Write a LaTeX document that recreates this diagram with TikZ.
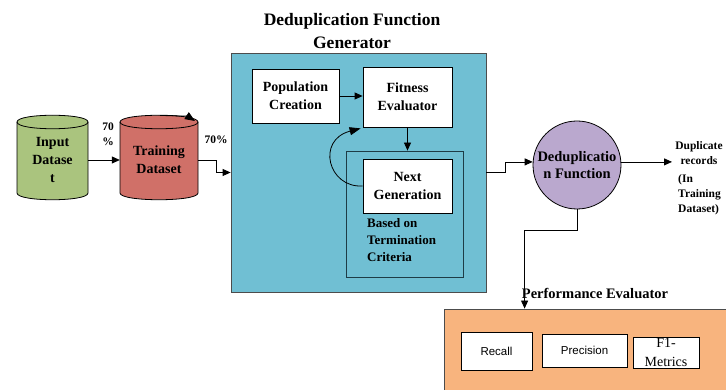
\documentclass[tikz,border=0pt]{standalone}
\usepackage{fontspec}
\setmainfont{Liberation Serif}
\newfontfamily\sansf{Liberation Sans}
\usetikzlibrary{arrows.meta,calc}
\definecolor{cgreen}{RGB}{170,196,126}
\definecolor{cred}{RGB}{208,112,104}
\definecolor{cblue}{RGB}{112,191,211}
\definecolor{clav}{RGB}{186,168,206}
\definecolor{corange}{RGB}{248,180,126}
\definecolor{cdark}{RGB}{30,60,70}
\begin{document}
\begin{tikzpicture}[x=1pt,y=-1pt,
  arr/.style={-{Triangle[length=8pt,width=7pt]}, line width=0.8pt},
  ln/.style={line width=0.8pt},
  wbox/.style={draw, fill=white, line width=0.8pt, align=center, inner sep=0pt,
    font=\bfseries\fontsize{14}{18}\selectfont},
  lbl/.style={align=center, inner sep=0pt, font=\bfseries\fontsize{14}{18}\selectfont},
  sm/.style={align=center, inner sep=0pt, font=\bfseries\fontsize{11.5}{15}\selectfont},
  sbox/.style={draw, fill=white, line width=0.8pt, inner sep=0pt, font=\sansf\fontsize{11.5}{14}\selectfont}
]
\useasboundingbox (0,0) rectangle (726,390);

% cylinders
\filldraw[fill=cgreen, ln] (17,122) -- (17,193) .. controls (17,202) and (88,202) .. (88,193)
  -- (88,122) .. controls (88,113) and (17,113) .. (17,122) -- cycle;
\draw[ln] (17,122) .. controls (17,131) and (88,131) .. (88,122);
\node[lbl, minimum width=71pt, minimum height=85pt] (inp) at (52.5,160) {Input\\Datase\\t};

\filldraw[fill=cred, ln] (120,122) -- (120,193) .. controls (120,202) and (198,202) .. (198,193)
  -- (198,122) .. controls (198,113) and (120,113) .. (120,122) -- cycle;
\draw[ln] (120,122) .. controls (120,131) and (198,131) .. (198,122);
\draw[-{Triangle[length=10pt,width=8pt]}, ln] (160,115.5) .. controls (180,115.8) and (188,116.5) .. (195,121);
\node[lbl, minimum width=78pt, minimum height=85pt] (trn) at (159,160) {Training\\Dataset};

\node[sm] (p1) at (108,134.5) {70\\\%};
\node[sm] (p2) at (216,140) {70\%};

% generator
\node[lbl, font=\bfseries\fontsize{17.5}{23}\selectfont] (title) at (352,31.5) {Deduplication Function\\Generator};
\node[draw=black!70, fill=cblue, line width=0.8pt, minimum width=255pt, minimum height=239pt, inner sep=0pt] (gen) at (358.5,172.5) {};
\node[wbox, minimum width=87pt, minimum height=54pt] (pop) at (295.5,96) {Population\\Creation};
\node[wbox, minimum width=89pt, minimum height=60pt] (fit) at (407.5,97) {Fitness\\Evaluator};
\node[draw=cdark, line width=0.8pt, minimum width=117pt, minimum height=126pt, inner sep=0pt] (inner) at (404.5,214) {};
\node[wbox, minimum width=89pt, minimum height=54pt] (ng) at (407.5,186) {Next\\Generation};
\node[align=left, anchor=north west, inner sep=0pt, font=\bfseries\fontsize{13}{17}\selectfont] (crit) at (367,218) {Based on\\Termination\\Criteria};

\draw[arr] (trn.east) -- ++(18,0) |- (gen.west);
\draw[arr] (pop.east) -- (pop.east -| fit.west);
\draw[arr] (fit.south) -- (fit.south |- inner.north);
\draw[-{Triangle[length=11pt,width=8pt]}, ln] (ng.west) .. controls (328,188) and (316,140) .. ($(fit.south west)+(-2,1)$);
\draw[arr] (inp.east) -- (trn.west);

% dedup function
\node[circle, draw, fill=clav, line width=0.8pt, minimum size=88pt, inner sep=0pt, align=center,
  font=\bfseries\fontsize{14.5}{17}\selectfont] (dfn) at (577,165) {Deduplicatio\\n Function};
\draw[arr] (gen.east) -- ++(19,0) |- (dfn.176);
\node[sm] (dup) at (699,153.5) {Duplicate\\records};
\node[sm, align=left, anchor=north west] (intr) at (678,174) {(In\\Training\\Dataset)};
\draw[arr] (dfn.4) -- (dfn.4 -| 672,0);

% performance evaluator
\node[draw=black!70, fill=corange, line width=0.8pt, minimum width=284pt, minimum height=83pt, inner sep=0pt] (perf) at (586,350.5) {};
\node[lbl, font=\bfseries\fontsize{14.5}{17}\selectfont] (ptitle) at (595,293) {Performance Evaluator};
\draw[arr] (dfn.south) -- ++(0,21) -| ($(perf.north west)+(81,0)$);
\node[sbox, minimum width=71pt, minimum height=38pt] (rec) at (496.5,351) {Recall};
\node[sbox, minimum width=85pt, minimum height=33pt] (prec) at (584.5,350.5) {Precision};
\node[draw, fill=white, line width=0.8pt, minimum width=66pt, minimum height=31pt, inner sep=0pt] (f1) at (666,352.5) {};
\node[align=center, inner sep=0pt, font=\fontsize{14}{19}\selectfont] (f1t) at (666,352) {F1-\\Metrics};
\end{tikzpicture}
\end{document}
